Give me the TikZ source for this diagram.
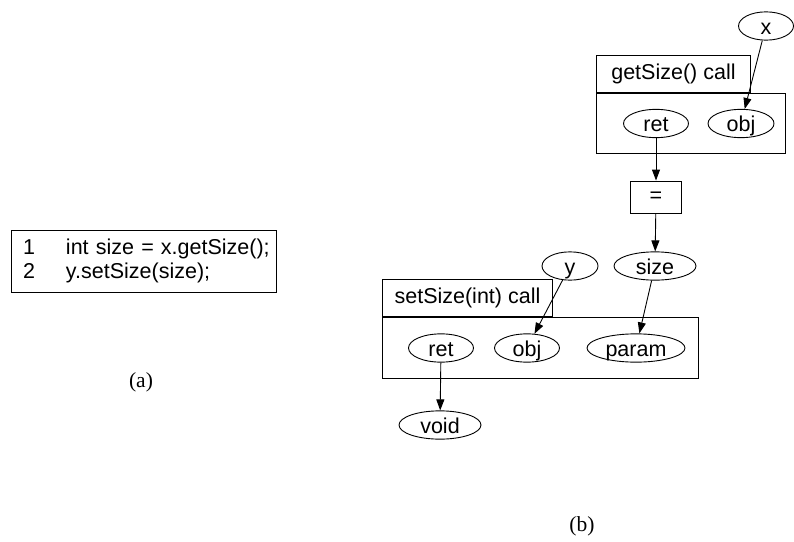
\documentclass[tikz,border=0pt]{standalone}
\usepackage{fontspec}
\setmainfont{Liberation Sans}
\newfontfamily\capfont{Liberation Serif}
\usetikzlibrary{positioning, arrows.meta, shapes.geometric}

\begin{document}
\begin{tikzpicture}[x=1pt, y=-1pt, line width=0.9pt,
    font=\fontsize{21.5}{24}\selectfont,
    port/.style={draw, ellipse, inner sep=0pt, minimum height=27pt,
                 text height=18pt, text depth=2pt},
    titlebox/.style={draw, rectangle, inner sep=0pt, minimum height=37pt, anchor=south west},
    bodybox/.style={draw, rectangle, inner sep=0pt, anchor=north west},
    flow/.style={-{Triangle[length=11pt, width=8pt]}}]
  \useasboundingbox (0,0) rectangle (794,541);

  % (a) the two source lines
  \node[draw, inner xsep=7pt, inner ysep=0pt, text width=251pt,
        minimum height=62pt, align=left] (code) at (143.5,261) {%
    \mbox{\makebox[48pt][l]{\hspace*{5pt}1}int size = x.getSize();}\\
    \mbox{\makebox[48pt][l]{\hspace*{5pt}2}y.setSize(size);}};
  \node[font=\capfont\fontsize{21.5}{24}\selectfont] (capa) at (141,382) {(a)};

  % (b) getSize() call
  \node[bodybox, minimum width=189pt, minimum height=60pt] (getbody) at (596,93) {};
  \node[titlebox, minimum width=154pt] (gettitle) at (getbody.north west) {getSize() call};
  \node[port, minimum width=65pt] (getret) at (656,123.5) {ret};
  \node[port, minimum width=66pt] (getobj) at (741,123.5) {obj};
  \node[port, minimum width=55pt] (x) at (766,26) {x};

  \node[draw, rectangle, inner sep=0pt, minimum width=51pt, minimum height=32pt] (assign) at (656,197) {=};
  \node[port, minimum width=82pt] (size) at (655,266) {size};
  \node[port, minimum width=56pt] (y) at (570,266) {y};

  % (b) setSize(int) call
  \node[bodybox, minimum width=316pt, minimum height=61pt] (setbody) at (382,317) {};
  \node[titlebox, minimum width=170pt] (settitle) at (setbody.north west) {setSize(int) call};
  \node[port, minimum width=65pt] (setret) at (441,348) {ret};
  \node[port, minimum width=65pt] (setobj) at (527,348) {obj};
  \node[port, minimum width=98pt] (param) at (636,348) {param};
  \node[port, minimum width=82pt] (void) at (440,425) {void};

  \draw[flow] (x) -- (getobj);
  \draw[flow] (getret) -- (assign);
  \draw[flow] (assign) -- (size);
  \draw[flow] (y) -- (setobj);
  \draw[flow] (size) -- (param);
  \draw[flow] (setret) -- (void);

  \node[font=\capfont\fontsize{21.5}{24}\selectfont] (capb) at (582,526) {(b)};
\end{tikzpicture}
\end{document}
